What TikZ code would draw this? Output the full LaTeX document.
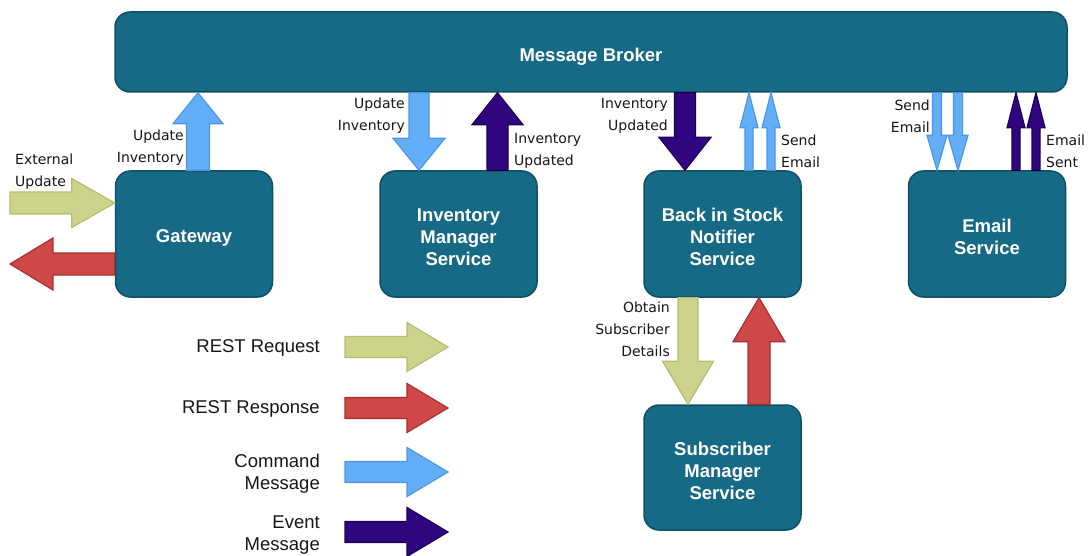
\documentclass[tikz,border=0pt]{standalone}
\usepackage{fontspec}
\setmainfont{Liberation Sans}
\newfontfamily\lblfont{DejaVu Sans}
\usetikzlibrary{calc}

\definecolor{boxfill}{RGB}{22,106,133}
\definecolor{boxline}{RGB}{14,80,102}
\definecolor{cmdfill}{RGB}{99,174,248}
\definecolor{cmdline}{RGB}{78,150,228}
\definecolor{evtfill}{RGB}{48,6,128}
\definecolor{evtline}{RGB}{30,0,82}
\definecolor{reqfill}{RGB}{206,211,140}
\definecolor{reqline}{RGB}{182,190,112}
\definecolor{respfill}{RGB}{207,72,72}
\definecolor{respline}{RGB}{168,48,48}
\definecolor{lblgray}{RGB}{22,22,22}

% block arrow: style, from, to, shaft half-width, head half-width, head length
\newcommand\blockarrow[6]{%
  \coordinate (ba-s) at (#2);
  \coordinate (ba-e) at (#3);
  \coordinate (ba-h) at ($(ba-e)!#6!(ba-s)$);
  \draw[#1] ($(ba-s)!#4!90:(ba-e)$) -- ($(ba-h)!#4!90:(ba-e)$)
    -- ($(ba-h)!#5!90:(ba-e)$) -- (ba-e) -- ($(ba-h)!#5!-90:(ba-e)$)
    -- ($(ba-h)!#4!-90:(ba-e)$) -- ($(ba-s)!#4!-90:(ba-e)$) -- cycle;}

\tikzset{
  box/.style={draw=boxline, fill=boxfill, line width=1.5pt, rounded corners=15pt,
    inner sep=0pt},
  svc/.style={box, minimum width=157pt, minimum height=126pt},
  boxtext/.style={text=white, align=center, inner sep=0pt,
    font=\bfseries\fontsize{18.5}{22}\selectfont},
  arr/.style={line width=1.2pt, line join=miter},
  req/.style={arr, fill=reqfill, draw=reqline},
  resp/.style={arr, fill=respfill, draw=respline},
  cmd/.style={arr, fill=cmdfill, draw=cmdline},
  evt/.style={arr, fill=evtfill, draw=evtline},
  lbl/.style={font=\lblfont\fontsize{14}{22}\selectfont, text=lblgray, inner sep=0pt},
  legend/.style={font=\fontsize{18.5}{22}\selectfont, text=lblgray, inner sep=0pt, align=right, anchor=east}
}

\begin{document}
\begin{tikzpicture}[x=1pt, y=-1pt]
\useasboundingbox (0,0) rectangle (1089,556);

% broker and services
\node[box, minimum width=952pt, minimum height=80pt] (mb) at (591,52) {};
\node[svc] (gw) at (194,234) {};
\node[svc] (ims) at (458.5,234) {};
\node[svc] (bis) at (722.5,234) {};
\node[svc] (es) at (987,234) {};
\node[svc, minimum height=125pt] (sms) at (722.5,467.5) {};

\node[boxtext] (mb-t) at ([yshift=-4.5pt]mb.center) {Message Broker};
\node[boxtext] (gw-t) at ([yshift=-4pt]gw.center) {Gateway};
\node[boxtext] (ims-t) at ([yshift=-3pt]ims.center) {Inventory\\Manager\\Service};
\node[boxtext] (bis-t) at ([yshift=-3pt]bis.center) {Back in Stock\\Notifier\\Service};
\node[boxtext] (es-t) at ([yshift=-3pt]es.center) {Email\\Service};
\node[boxtext] (sms-t) at ([yshift=-3pt]sms.center) {Subscriber\\Manager\\Service};

% gateway traffic
\coordinate (extsrc) at (10,203);
\blockarrow{req}{extsrc}{gw.west |- extsrc}{11pt}{24.5pt}{43pt}
\coordinate (respdst) at (10,264);
\blockarrow{resp}{gw.west |- respdst}{respdst}{11pt}{26pt}{43pt}
\coordinate (gwA) at ([xshift=4pt]gw.north);
\blockarrow{cmd}{gwA}{mb.south -| gwA}{11.5pt}{25pt}{31pt}

% inventory manager
\coordinate (imsA) at ([xshift=-39.5pt]ims.north);
\blockarrow{cmd}{mb.south -| imsA}{imsA}{10pt}{26pt}{32pt}
\coordinate (imsB) at ([xshift=39pt]ims.north);
\blockarrow{evt}{imsB}{mb.south -| imsB}{10.5pt}{25.5pt}{32pt}

% back in stock notifier
\coordinate (bisA) at ([xshift=-37.5pt]bis.north);
\blockarrow{evt}{mb.south -| bisA}{bisA}{10.5pt}{26pt}{33pt}
\coordinate (bisB) at ([xshift=26.5pt]bis.north);
\blockarrow{cmd}{bisB}{mb.south -| bisB}{4pt}{9pt}{35pt}
\coordinate (bisC) at ([xshift=48.5pt]bis.north);
\blockarrow{cmd}{bisC}{mb.south -| bisC}{4pt}{9pt}{35pt}

% email service
\coordinate (esA) at ([xshift=-50pt]es.north);
\blockarrow{cmd}{mb.south -| esA}{esA}{4.5pt}{10pt}{35pt}
\coordinate (esB) at ([xshift=-29pt]es.north);
\blockarrow{cmd}{mb.south -| esB}{esB}{4.5pt}{10pt}{35pt}
\coordinate (esC) at ([xshift=29pt]es.north);
\blockarrow{evt}{esC}{mb.south -| esC}{4pt}{9pt}{35pt}
\coordinate (esD) at ([xshift=49pt]es.north);
\blockarrow{evt}{esD}{mb.south -| esD}{4pt}{9pt}{35pt}

% subscriber lookup
\coordinate (bisD) at ([xshift=-34.5pt]bis.south);
\blockarrow{req}{bisD}{sms.north -| bisD}{10pt}{25.5pt}{43pt}
\coordinate (smsA) at ([xshift=36.5pt]sms.north);
\blockarrow{resp}{smsA}{bis.south -| smsA}{11pt}{26pt}{44pt}

% arrow labels
\node[lbl, anchor=west, align=left] (lExt) at (15,171.5) {External\\Update};
\node[lbl, anchor=east, align=right] (lGw) at (184,148) {Update\\Inventory};
\node[lbl, anchor=east, align=right] (lImsA) at (405,115.5) {Update\\Inventory};
\node[lbl, anchor=west, align=left] (lImsB) at (514,150.5) {Inventory\\Updated};
\node[lbl, anchor=east, align=right] (lBisA) at (668,115.5) {Inventory\\Updated};
\node[lbl, anchor=west, align=left] (lBisB) at (781,151) {Send\\Email};
\node[lbl, anchor=east, align=right] (lEsA) at (930,116.5) {Send\\Email};
\node[lbl, anchor=west, align=left] (lEsB) at (1046,151) {Email\\Sent};
\node[lbl, anchor=east, align=right] (lSub) at (670,329) {Obtain\\Subscriber\\Details};

% legend
\node[legend] (kReq) at (320,348) {REST Request};
\node[legend] (kResp) at (320,409) {REST Response};
\node[legend] (kCmd) at (320,473.5) {Command\\Message};
\node[legend] (kEvt) at (320,535.5) {Event\\Message};
\coordinate (k1a) at (345,347); \coordinate (k1b) at (448,347);
\blockarrow{req}{k1a}{k1b}{10.5pt}{24.5pt}{41pt}
\coordinate (k2a) at (345,408); \coordinate (k2b) at (448,408);
\blockarrow{resp}{k2a}{k2b}{10.5pt}{24.5pt}{41pt}
\coordinate (k3a) at (345,472); \coordinate (k3b) at (448,472);
\blockarrow{cmd}{k3a}{k3b}{10.5pt}{24.5pt}{41pt}
\coordinate (k4a) at (345,532); \coordinate (k4b) at (448,532);
\blockarrow{evt}{k4a}{k4b}{10.5pt}{24.5pt}{41pt}
\end{tikzpicture}
\end{document}
